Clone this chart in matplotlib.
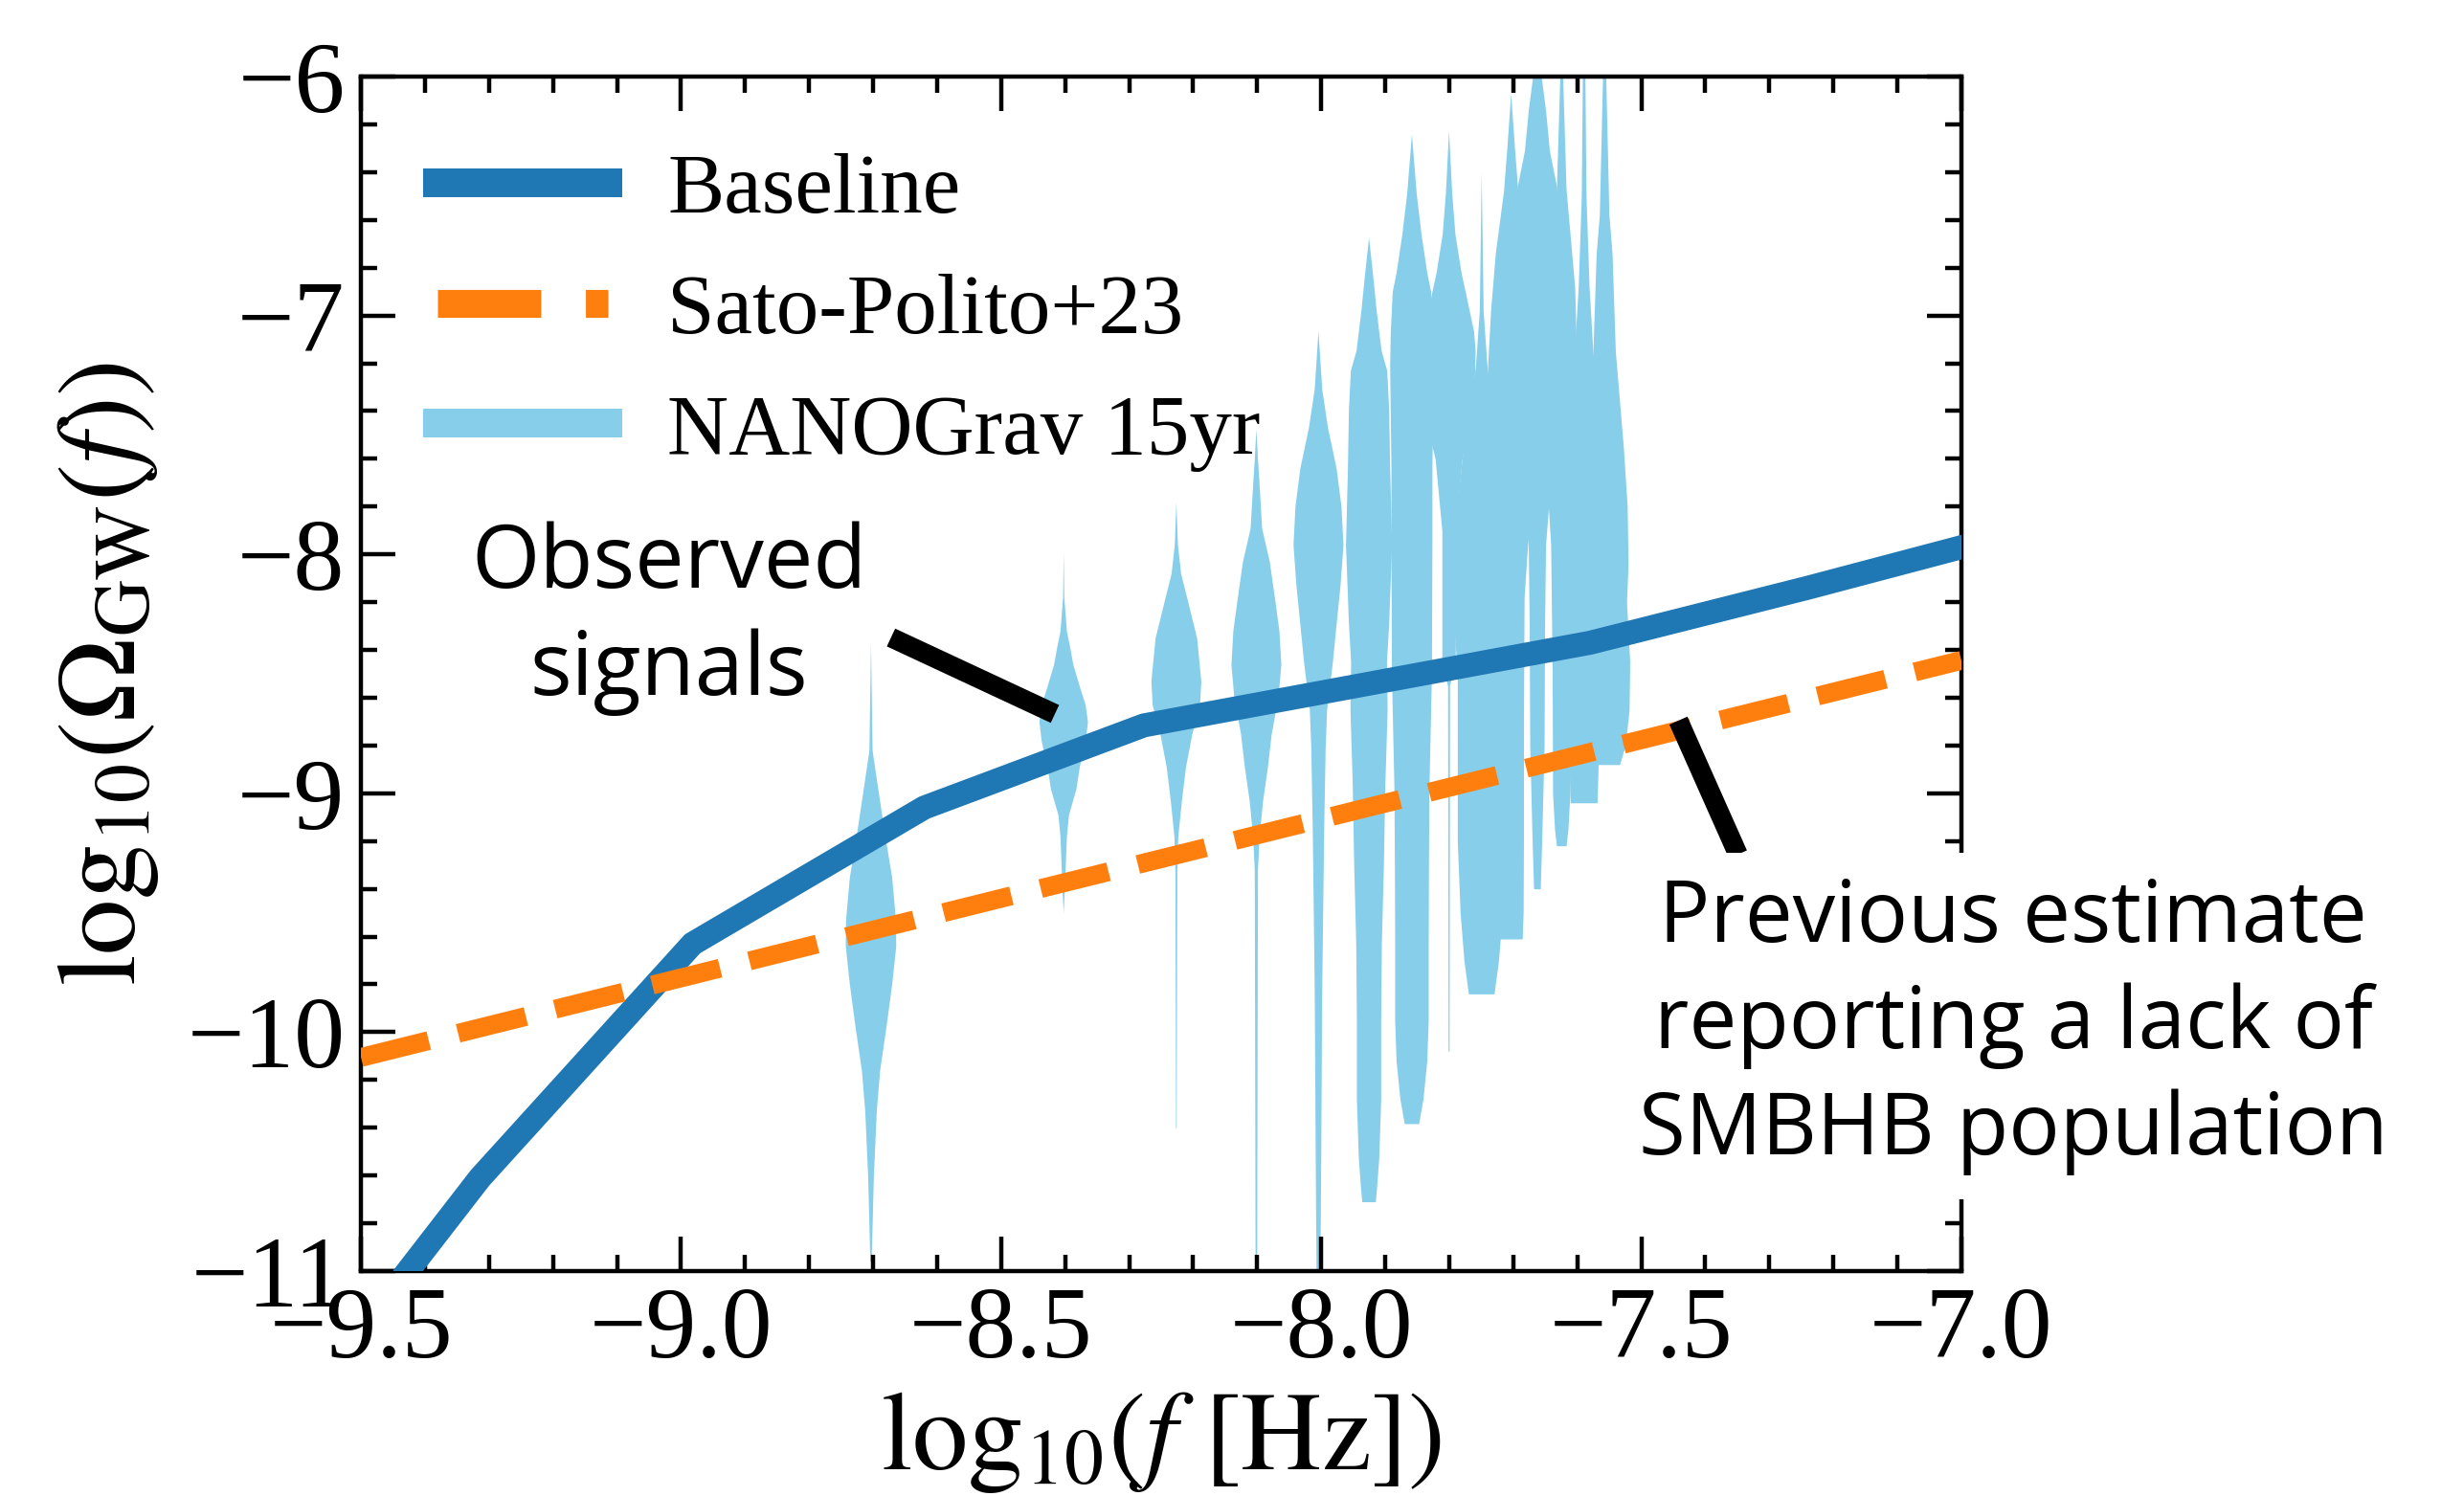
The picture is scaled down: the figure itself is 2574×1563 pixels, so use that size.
import matplotlib.pyplot as plt
from matplotlib.lines import Line2D
import numpy as np

plt.rcParams['font.family'] = 'serif'
plt.rcParams['font.serif'] = ['Liberation Serif', 'DejaVu Serif']
plt.rcParams['mathtext.fontset'] = 'stix'

# baseline model
base_x = [-9.6, -9.314, -8.982, -8.62, -8.277, -7.58, -7.24, -7.0]
base_y = [-11.6, -10.61, -9.63, -9.06, -8.716, -8.37, -8.14, -7.97]

# Sato-Polito+23 (power law)
sp_x = [-9.5, -8.5, -7.5, -7.0]
sp_y = [-10.106, -9.44, -8.776, -8.444]

# NANOGrav 15yr violins: frequency bins (log10 f), levels (log10 Omega), half widths (dex)
violin_x = [-8.704, -8.403, -8.227, -8.102, -8.005, -7.926, -7.859,
            -7.801, -7.750, -7.704, -7.663, -7.625, -7.590, -7.558]
violin_y = [
    [-8.37, -8.82, -9.00, -9.18, -9.35, -9.53, -9.64, -9.80, -9.98, -10.16, -10.33, -10.60, -10.96],
    [-7.99, -8.18, -8.32, -8.40, -8.46, -8.55, -8.63, -8.70, -8.78, -8.89, -8.98, -9.09, -9.18, -9.39, -9.50],
    [-7.78, -7.96, -8.08, -8.20, -8.35, -8.53, -8.63, -8.75, -8.89, -9.03, -9.18, -9.32, -10.40],
    [-7.475, -7.60, -7.75, -7.89, -8.03, -8.20, -8.32, -8.46, -8.60, -8.75, -8.89, -9.03, -9.18, -9.32, -11.0],
    [-7.065, -7.31, -7.47, -7.64, -7.80, -7.96, -8.13, -8.29, -8.45, -8.65, -8.81, -9.14, -9.46, -9.79,
     -10.12, -10.44, -10.77, -11.0],
    [-6.673, -6.82, -6.98, -7.145, -7.23, -7.39, -7.64, -7.96, -8.29, -8.45, -8.65, -8.97, -9.30, -9.63,
     -9.95, -10.28, -10.525, -10.67, -10.71],
    [-6.24, -6.49, -6.66, -6.82, -6.90, -7.065, -7.21, -7.64, -7.96, -8.37, -8.48, -8.97, -9.30, -9.63,
     -9.95, -10.12, -10.28, -10.383],
    [-6.226, -6.49, -6.66, -6.82, -6.90, -7.065, -7.145, -7.31, -7.47, -7.60, -7.90, -8.20, -8.45, -8.55, -10.08],
    [-6.40, -6.98, -7.21, -7.40, -7.60, -7.90, -8.20, -8.50, -8.80, -9.20, -9.50, -9.70, -9.84],
    [-6.07, -6.30, -6.48, -6.74, -6.98, -7.21, -7.50, -7.80, -8.00, -8.18, -8.70, -9.20, -9.50, -9.61],
    [-5.80, -6.00, -6.14, -6.31, -6.46, -6.80, -7.20, -7.60, -7.96, -8.30, -8.80, -9.20, -9.40],
    [-5.90, -6.00, -6.20, -6.47, -6.88, -7.30, -7.70, -7.96, -8.50, -9.00, -9.15, -9.22],
    [-5.90, -6.00, -6.50, -6.88, -7.18, -7.50, -8.00, -8.50, -8.90, -9.04],
    [-5.90, -6.00, -6.58, -6.74, -7.15, -7.39, -7.55, -7.80, -8.04, -8.20, -8.45, -8.65, -8.80, -8.88],
]
violin_w = [
    [0, .0025, .0124, .0225, .033, .039, .0394, .033, .024, .0142, .009, .0045, .001],
    [0, .001, .005, .011, .015, .025, .0344, .0379, .0344, .025, .020, .0082, .005, .002, 0],
    [0, .0025, .0075, .0187, .0325, .039, .037, .025, .015, .0087, .003, .0015, .0005],
    [0, .0025, .006, .009, .021, .030, .036, .039, .0344, .024, .018, .0105, .005, .0025, .0012],
    [0, .006, .015, .0284, .036, .039, .0344, .0284, .0225, .0135, .0112, .009, .0075, .006,
     .0052, .0045, .0037, .003],
    [0, .006, .012, .0195, .0284, .0314, .033, .036, .0314, .028, .029, .0254, .0232, .020,
     .019, .019, .016, .012, .0105],
    [0, .0075, .015, .024, .030, .033, .034, .032, .032, .0314, .0314, .0274, .0266, .0262,
     .0262, .024, .018, .0112],
    [0, .005, .010, .0195, .026, .039, .0415, .040, .033, .021, .0105, .0105, .0105, .0015, .0008],
    [0, .003, .009, .018, .030, .042, .045, .0374, .0374, .0374, .033, .027, .020],
    [0, .006, .0112, .024, .0314, .036, .036, .0314, .0254, .021, .020, .020, .0195, .018],
    [0, .0067, .0135, .0195, .0307, .036, .033, .024, .0135, .012, .0112, .0075, .0052],
    [0, .0022, .0045, .0075, .021, .0254, .0225, .0165, .0142, .0135, .0105, .0075],
    [0, .002, .0037, .0085, .015, .0225, .0254, .024, .0225, .021],
    [0, .0025, .0075, .0124, .0175, .025, .030, .036, .0374, .035, .040, .039, .033, .024],
]

# annotation pointer lines
obs_line_x = [-8.672, -8.416]
obs_line_y = [-8.348, -8.668]
prev_line_x = [-7.442, -7.349]
prev_line_y = [-8.696, -9.256]

fig = plt.figure(figsize=(12.87, 7.815), dpi=200)
ax = fig.add_axes([0.1465, 0.1504, 0.6495, 0.7984])

for xc, ys, ws in zip(violin_x, violin_y, violin_w):
    ws = np.array(ws)
    ax.fill_betweenx(ys, xc - ws, xc + ws, color='skyblue', lw=0, zorder=1)

ax.plot(base_x, base_y, color='#1f77b4', lw=9, zorder=3)
ax.plot(sp_x, sp_y, color='#ff7f0e', lw=7.1, ls='--', zorder=3)

ax.plot(obs_line_x, obs_line_y, color='black', lw=7.4, solid_capstyle='butt', zorder=4)
ax.plot(prev_line_x, prev_line_y, color='black', lw=7.4, solid_capstyle='butt',
        zorder=4, clip_on=False)

sans = ['Open Sans', 'DejaVu Sans']
ax.text(-9.019, -8.27, 'Observed\nsignals', family=sans, fontsize=33,
        ha='center', va='center', multialignment='center', linespacing=1.3, zorder=5)
ax.text(-6.919, -9.975, 'Previous estimate\nreporting a lack of\nSMBHB population',
        family=sans, fontsize=32, ha='center', va='center', multialignment='center',
        linespacing=1.3, clip_on=False, zorder=5,
        bbox=dict(facecolor='white', edgecolor='none', pad=9))

ax.set_xlim(-9.5, -7.0)
ax.set_ylim(-11, -6)
ax.set_xticks([-9.5, -9.0, -8.5, -8.0, -7.5, -7.0])
ax.set_yticks([-11, -10, -9, -8, -7, -6])
ax.set_xticks(np.arange(-9.5, -6.99, 0.1), minor=True)
ax.set_yticks(np.arange(-11, -5.99, 0.2), minor=True)
ax.set_xticklabels(['\u22129.5', '\u22129.0', '\u22128.5', '\u22128.0', '\u22127.5', '\u22127.0'])
ax.set_yticklabels(['\u221211', '\u221210', '\u22129', '\u22128', '\u22127', '\u22126'])

ax.tick_params(which='both', direction='in', top=True, right=True, width=1.6)
ax.tick_params(which='major', length=13, labelsize=38, pad=6)
ax.tick_params(which='minor', length=6)
for s in ax.spines.values():
    s.set_linewidth(1.6)

ax.set_xlabel(r'${\rm log}_{10}(f\ [{\rm Hz}])$', fontsize=42, labelpad=4)
ax.set_ylabel(r'${\rm log}_{10}(\Omega_{\rm GW}(f))$', fontsize=42, labelpad=10)

handles = [Line2D([], [], color='#1f77b4', lw=10.8),
           Line2D([], [], color='#ff7f0e', lw=10.5, ls='--'),
           Line2D([], [], color='skyblue', lw=10.8)]
ax.legend(handles, ['Baseline', 'Sato-Polito+23', 'NANOGrav 15yr'], loc='upper left',
          frameon=False, fontsize=32, handlelength=2.0, handletextpad=0.7,
          labelspacing=0.5)

fig.savefig('out.png', dpi=200)
